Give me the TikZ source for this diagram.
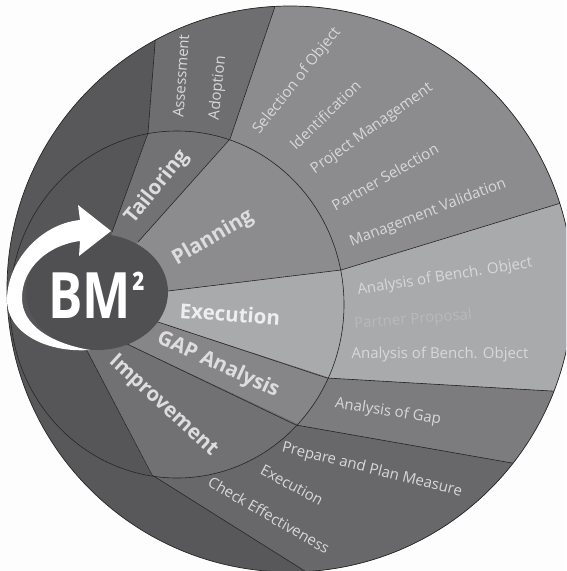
\documentclass[tikz,border=0pt]{standalone}
\usepackage{fontspec}
\setmainfont{Open Sans}
\definecolor{bg}{HTML}{FDFDFD}
\definecolor{darkA}{HTML}{58585A}
\definecolor{darkB}{HTML}{565658}
\definecolor{tailI}{HTML}{727274}
\definecolor{tailO}{HTML}{6E6E70}
\definecolor{planC}{HTML}{8C8C8E}
\definecolor{execC}{HTML}{A9AAAC}
\definecolor{gapI}{HTML}{868688}
\definecolor{gapO}{HTML}{7C7C7E}
\definecolor{impI}{HTML}{717173}
\definecolor{impO}{HTML}{68686A}
\definecolor{bmC}{HTML}{505052}
\definecolor{txt}{HTML}{D8D8DA}
\definecolor{headtxt}{HTML}{DDDDDF}
\definecolor{headlight}{HTML}{EEEEF0}
\definecolor{faint}{HTML}{B9B9BB}
\definecolor{edge}{HTML}{262626}
\tikzset{
 lab/.style={text=txt, font=\fontsize{15}{18}\selectfont, inner sep=0pt},
 head/.style={text=headtxt, font=\bfseries\fontsize{20.5}{24}\selectfont, inner sep=0pt},
 divider/.style={draw=edge, line width=0.6pt},
}
\begin{document}
\begin{tikzpicture}[x=1pt,y=-1pt]
\useasboundingbox (0,0) rectangle (566,571);
\fill[bg] (0,0) rectangle (566,571);
\begin{scope}
\clip (0,0) rectangle (566,571);
\begin{scope}
\clip (290,289) circle (283);
\fill[darkA] (-10,-30) rectangle (620,620);
% outer ring sectors
\fill[tailO] (148,133) -- (160,-20) -- (284,-20) -- (230,139) -- cycle;
\fill[planC] (230,139) -- (284,-20) -- (620,-20) -- (620,185) -- (341,270) -- (177,304) -- cycle;
\fill[execC] (341,270) -- (620,185) -- (620,395) -- (327,378) -- (177,304) -- cycle;
\fill[gapO] (327,378) -- (620,395) -- (620,482) -- (296,425) -- (177,304) -- cycle;
\fill[impO] (296,425) -- (620,482) -- (620,700) -- (510,700) -- (152,475) -- (177,304) -- cycle;
% inner disc
\fill[darkB] (177,304.5) ellipse [x radius=167, y radius=173.5];
\begin{scope}
\clip (177,304.5) ellipse [x radius=167, y radius=173.5];
\fill[tailI] (97,292) -- (112,232) -- (160,99) -- (256,109) -- (138,242) -- cycle;
\fill[planC] (97,292) -- (138,242) -- (256,109) -- (400,100) -- (380,265) -- (168,291) -- cycle;
\fill[execC] (97,292) -- (168,291) -- (380,265) -- (370,391) -- (155,321) -- cycle;
\fill[gapI] (97,292) -- (155,321) -- (370,391) -- (340,444) -- (125,343) -- cycle;
\fill[impI] (97,292) -- (125,343) -- (340,444) -- (300,540) -- (170,511) -- (85,347) -- cycle;
\end{scope}
% dividers
\draw[divider] (112,232) -- (148,133) -- (160,-20);
\draw[divider] (138,242) -- (230,139) -- (284,-20);
\draw[divider] (168,291) -- (341,270) -- (620,185);
\draw[divider] (155,321) -- (327,378) -- (620,395);
\draw[divider] (125,343) -- (296,425) -- (620,482);
\draw[divider] (85,347) -- (152,475) -- (510,700);
\draw[divider] (177,304.5) ellipse [x radius=167, y radius=173.5];
\end{scope}
\draw[edge, line width=0.7pt] (290,289) circle (283);
\end{scope}
% BM hub
\fill[bmC] (97,292) ellipse [x radius=71, y radius=58];
\fill[white] (80,220) .. controls (40,224) and (7,262) .. (7,300)
  .. controls (7,332) and (45,353) .. (90,350)
  .. controls (50,343) and (22,325) .. (22,298)
  .. controls (22,268) and (48,245) .. (80,241)
  -- (79,256) -- (111,231) -- (78,205) -- cycle;
\node[text=white, font=\bfseries\fontsize{64}{64}\selectfont, xscale=0.8, anchor=base west, inner sep=0pt] (bm) at (48,318) {BM\kern2pt\raisebox{16pt}{\fontsize{42}{42}\selectfont ²}};
% phase labels
\node[head, rotate=51] (tailoring) at (157,187) {Tailoring};
\node[head, rotate=30] (planning) at (213,238) {Planning};
\node[head, rotate=-4, text=headlight] (execution) at (230,314) {Execution};
\node[head, rotate=-24.5] (gap) at (218,365) {GAP Analysis};
\node[head, rotate=-42.5] (improvement) at (163,406) {Improvement};
% step labels
\node[lab, rotate=86] (assess) at (181,76) {Assessment};
\node[lab, rotate=84] (adopt) at (218,88) {Adoption};
\node[lab, rotate=51.5] (sel) at (297,81) {Selection of Object};
\node[lab, rotate=44] (ident) at (325,115) {Identification};
\node[lab, rotate=35.5] (pm) at (372,129) {Project Management};
\node[lab, rotate=29.5] (ps) at (385,177) {Partner Selection};
\node[lab, rotate=21] (mv) at (428,213) {Management Validation};
\node[lab, rotate=9] (abo1) at (445,277) {Analysis of Bench. Object};
\node[lab, rotate=4.5, text=faint] (pp) at (413,320) {Partner Proposal};
\node[lab, rotate=0] (abo2) at (440,355) {Analysis of Bench. Object};
\node[lab, rotate=-9] (aog) at (388,412) {Analysis of Gap};
\node[lab, rotate=-14] (ppm) at (372,470) {Prepare and Plan Measure};
\node[lab, rotate=-28] (exe2) at (292,485) {Execution};
\node[lab, rotate=-30] (ce) at (269,515) {Check Effectiveness};
\end{tikzpicture}
\end{document}
